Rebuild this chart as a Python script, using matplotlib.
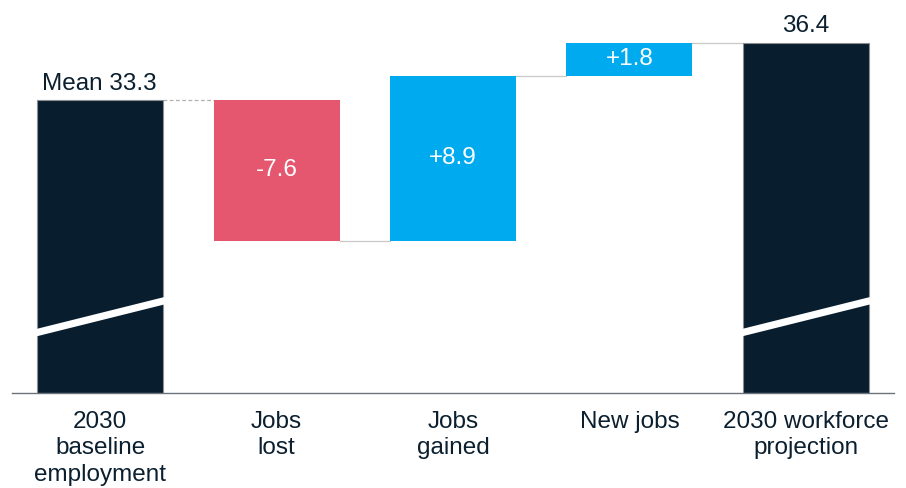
import matplotlib.pyplot as plt
import numpy as np

plt.rcParams["font.family"] = ["Liberation Sans", "DejaVu Sans"]

categories = ["2030\nbaseline\nemployment", "Jobs\nlost", "Jobs\ngained", "New jobs", "2030 workforce\nprojection"]
baseline = 33.3
changes = [-7.6, 8.9, 1.8]
projection = 36.4
change_labels = ["-7.6", "+8.9", "+1.8"]

NAVY = "#081d2d"
RED = "#e5566f"
BLUE = "#00aaef"
TEXT = "#0b1f2e"
GREY = "#c8c8c8"
FS = 17.5

# axis floor (broken axis, not zero)
y_floor = 17.45
y_top = 38.17

fig = plt.figure(figsize=(9.06, 4.88), dpi=100, facecolor="white")
ax = fig.add_axes([12 / 906, 95 / 488, 882 / 906, 383 / 488])

x = np.arange(len(categories))
w = 0.715

# totals
ax.bar(x[0], baseline - y_floor, bottom=y_floor, width=w, color=NAVY, edgecolor="#8a8f94", linewidth=0.8, zorder=2)
ax.bar(x[4], projection - y_floor, bottom=y_floor, width=w, color=NAVY, edgecolor="#8a8f94", linewidth=0.8, zorder=2)

# steps
level = baseline
levels = [baseline]
colors = [RED, BLUE, BLUE]
for i, (d, c, lab) in enumerate(zip(changes, colors, change_labels)):
    lo, hi = min(level, level + d), max(level, level + d)
    ax.bar(x[i + 1], hi - lo, bottom=lo, width=w, color=c, zorder=2)
    ax.text(x[i + 1], (lo + hi) / 2, lab, ha="center", va="center", color="white", fontsize=FS)
    level += d
    levels.append(level)

# connectors
for i in range(4):
    ls = (0, (3, 2)) if i == 0 else "-"
    col = "#b0b0b0" if i == 0 else GREY
    ax.plot([x[i] + w / 2, x[i + 1] - w / 2], [levels[i], levels[i]], color=col, lw=0.9, ls=ls, zorder=1)

# axis break marks on total bars
for xi in (x[0], x[4]):
    ax.plot([xi - w / 2 - 0.01, xi + w / 2 + 0.01], [20.7, 22.45], color="white", lw=5.2, solid_capstyle="butt", zorder=3)

ax.text(x[0] - w / 2 + 0.03, baseline + 0.25, f"Mean {baseline}", ha="left", va="bottom", color=TEXT, fontsize=FS)
ax.text(x[4], projection + 0.3, f"{projection}", ha="center", va="bottom", color=TEXT, fontsize=FS)

ax.set_xlim(-0.5, 4.5)
ax.set_ylim(y_floor, y_top)
ax.set_xticks(x)
ax.set_xticklabels(categories, fontsize=FS, color=TEXT, linespacing=1.25)
ax.tick_params(axis="x", length=0, pad=13)
ax.set_yticks([])
for s in ["top", "right", "left"]:
    ax.spines[s].set_visible(False)
ax.spines["bottom"].set_color("#6b747c")
ax.spines["bottom"].set_linewidth(1.0)

fig.savefig("out.png", dpi=100, facecolor="white")
